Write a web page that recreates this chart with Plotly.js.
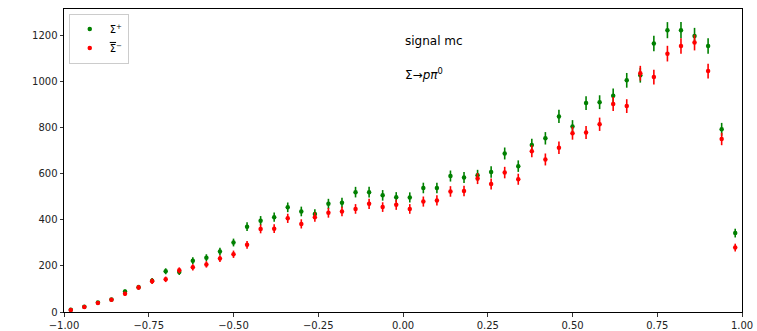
<!DOCTYPE html>
<html>
<head>
<meta charset="utf-8">
<script src="https://cdn.plot.ly/plotly-3.0.1.min.js"></script>
<style>
  html, body { margin: 0; padding: 0; background: #fff; }
  #plot { width: 757px; height: 331px; }
</style>
</head>
<body>
<div id="plot"></div>
<script>
// Bin centres of cos(theta), 50 bins on [-1, 1]
const binCenters = [
  -0.98, -0.94, -0.90, -0.86, -0.82, -0.78, -0.74, -0.70, -0.66, -0.62,
  -0.58, -0.54, -0.50, -0.46, -0.42, -0.38, -0.34, -0.30, -0.26, -0.22,
  -0.18, -0.14, -0.10, -0.06, -0.02,  0.02,  0.06,  0.10,  0.14,  0.18,
   0.22,  0.26,  0.30,  0.34,  0.38,  0.42,  0.46,  0.50,  0.54,  0.58,
   0.62,  0.66,  0.70,  0.74,  0.78,  0.82,  0.86,  0.90,  0.94,  0.98
];

// Sigma+ counts per bin
const sigmaPlus = [
   10,   23,   41,   54,   89,  108,  136,  177,  174,  223,
  236,  263,  302,  371,  397,  412,  455,  437,  426,  470,
  475,  521,  521,  507,  499,  498,  539,  539,  591,  585,
  594,  609,  689,  634,  726,  755,  850,  806,  908,  912,
  940, 1007, 1029, 1167, 1225, 1225, 1200, 1156,  794,  343
];
const sigmaPlusErr = [
   3,  5,  6,  7,  9, 10, 12, 13, 13, 15,
  15, 16, 17, 19, 20, 20, 21, 21, 21, 22,
  22, 23, 23, 23, 22, 22, 23, 23, 24, 24,
  24, 25, 26, 25, 27, 27, 29, 28, 30, 30,
  31, 32, 32, 34, 35, 35, 35, 34, 28, 19
];

// anti-Sigma- counts per bin
const sigmaBarMinus = [
    9,   22,   39,   53,   79,  107,  134,  142,  181,  194,
  207,  232,  251,  292,  361,  362,  407,  383,  412,  431,
  437,  448,  470,  456,  466,  448,  480,  485,  524,  526,
  580,  556,  606,  577,  699,  663,  714,  777,  780,  816,
  904,  895, 1038, 1021, 1123, 1156, 1171, 1047,  752,  280
];
const sigmaBarMinusErr = [
   3,  5,  6,  7,  9, 10, 12, 12, 13, 14,
  14, 15, 16, 17, 19, 19, 20, 20, 20, 21,
  21, 21, 22, 21, 22, 21, 22, 22, 23, 23,
  24, 24, 25, 24, 26, 26, 27, 28, 28, 29,
  30, 30, 32, 32, 34, 34, 34, 32, 27, 17
];

const xTicks = [-1.00, -0.75, -0.50, -0.25, 0.00, 0.25, 0.50, 0.75, 1.00];
const yTicks = [0, 200, 400, 600, 800, 1000, 1200];

const FONT = "DejaVu Sans, Liberation Sans, sans-serif";

function errTrace(name, y, err, color) {
  return {
    type: 'scatter',
    mode: 'markers',
    name: name,
    x: binCenters,
    y: y,
    marker: { color: color, size: 4.5, symbol: 'circle' },
    error_y: { type: 'data', array: err, visible: true, color: color, thickness: 1.6, width: 0 }
  };
}

const traces = [
  errTrace('Σ<sup>+</sup>', sigmaPlus, sigmaPlusErr, '#008000'),
  errTrace('<span style="text-decoration:overline">Σ</span><sup>−</sup>', sigmaBarMinus, sigmaBarMinusErr, '#ff0000')
];

const axisCommon = {
  showline: true, linecolor: '#000', linewidth: 1, mirror: true,
  ticks: 'outside', ticklen: 3.5, tickwidth: 0.8, tickcolor: '#000',
  showgrid: false, zeroline: false,
  tickfont: { family: FONT, size: 10, color: '#222' }
};

const layout = {
  width: 757, height: 331,
  margin: { l: 64, r: 15, t: 9, b: 19 },
  paper_bgcolor: '#fff', plot_bgcolor: '#fff',
  font: { family: FONT, size: 10, color: '#000' },
  xaxis: Object.assign({}, axisCommon, {
    range: [-1, 1],
    tickvals: xTicks,
    ticktext: xTicks.map(v => (v < 0 ? '−' : '') + Math.abs(v).toFixed(2))
  }),
  yaxis: Object.assign({}, axisCommon, {
    range: [0, 1317],
    tickvals: yTicks,
    ticktext: yTicks.map(String)
  }),
  showlegend: true,
  legend: {
    x: 0.007, y: 0.985, xanchor: 'left', yanchor: 'top',
    bgcolor: 'rgba(255,255,255,0.8)', bordercolor: '#cccccc', borderwidth: 1,
    font: { family: FONT, size: 10, color: '#000' },
    itemwidth: 30, tracegroupgap: 2
  },
  annotations: [
    { x: 0.0, y: 1178, xref: 'x', yref: 'y', xanchor: 'left', yanchor: 'middle',
      text: 'signal mc', showarrow: false, font: { family: FONT, size: 12, color: '#000' } },
    { x: 0.0, y: 1036, xref: 'x', yref: 'y', xanchor: 'left', yanchor: 'middle',
      text: 'Σ→<i>pπ</i><sup>0</sup>', showarrow: false, font: { family: FONT, size: 12, color: '#000' } }
  ]
};

Plotly.newPlot('plot', traces, layout, { displayModeBar: false, staticPlot: true });
</script>
</body>
</html>
